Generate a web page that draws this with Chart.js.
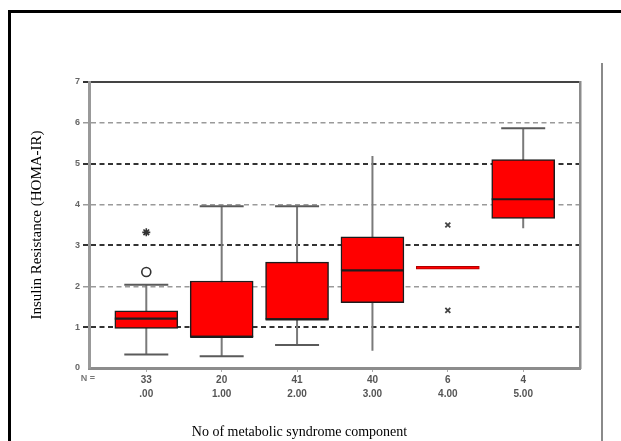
<!DOCTYPE html>
<html><head><meta charset="utf-8">
<script src="https://cdn.jsdelivr.net/npm/chart.js@4.4.1/dist/chart.umd.min.js"></script>
<style>
html,body{margin:0;padding:0;background:#fff;}
#wrap{position:relative;width:621px;height:441px;overflow:hidden;background:#fff;}
#frame{position:absolute;left:8px;top:10px;width:700px;height:500px;border-top:3px solid #000;border-left:3px solid #000;}
#vline{position:absolute;left:601px;top:63px;width:2px;height:400px;background:#8a8a8a;}
canvas{position:absolute;left:0;top:0;}
</style></head><body>
<div id="wrap"><div id="frame"></div><div id="vline"></div><canvas id="c" width="621" height="441"></canvas></div>
<script>
// ---- data ----
const categories = ['.00', '1.00', '2.00', '3.00', '4.00', '5.00'];
const nCounts = ['33', '20', '41', '40', '6', '4'];
const q1 = [0.97, 0.76, 1.19, 1.60, 2.42, 3.66];
const q3 = [1.40, 2.13, 2.59, 3.21, 2.49, 5.10];
const medians = [1.21, 0.76, 1.19, 2.39, null, 4.13];
const whiskerLow = [0.33, 0.29, 0.56, 0.42, null, 3.42];
const whiskerHigh = [2.04, 3.96, 3.96, 5.19, null, 5.87];
const capLow = [0.33, 0.29, 0.56, null, null, null];
const capHigh = [2.04, 3.96, 3.96, null, null, 5.87];
const outlierCircle = [[0, 2.35]];
const outlierStar = [[0, 3.32]];
const outlierCross = [[4, 3.50], [4, 1.41]];
const yTicks = [0, 1, 2, 3, 4, 5, 6, 7];
const yTitle = 'Insulin Resistance (HOMA-IR)';
const xTitle = 'No of metabolic syndrome component';

// ---- build datasets ----
const boxData = categories.map((c, i) => ({x: i, y: [q1[i], q3[i]]}));
const whiskerData = [];
categories.forEach((c, i) => {
  if (whiskerLow[i] != null) {
    whiskerData.push({x: i, y: whiskerLow[i]}, {x: i, y: whiskerHigh[i]}, {x: i + 0.5, y: null});
  }
});
const medData = categories.map((c, i) => ({x: i, y: medians[i]}));
const capData = [];
categories.forEach((c, i) => {
  if (capLow[i] != null) capData.push({x: i, y: capLow[i]});
  if (capHigh[i] != null) capData.push({x: i, y: capHigh[i]});
});
const toPts = a => a.map(p => ({x: p[0], y: p[1]}));

const nLabel = {
  id: 'nLabel',
  afterDraw(chart) {
    const ctx = chart.ctx;
    ctx.save();
    ctx.font = 'bold 9px "Liberation Sans"';
    ctx.fillStyle = '#777';
    ctx.textAlign = 'center';
    ctx.textBaseline = 'middle';
    ctx.fillText('N =', chart.chartArea.left - 1, chart.chartArea.bottom + 11);
    ctx.restore();
  }
};

new Chart(document.getElementById('c'), {
  type: 'bar',
  data: {
    datasets: [
      {type: 'line', data: whiskerData, borderColor: '#7a7a7a', borderWidth: 2, pointRadius: 0, spanGaps: false, order: 5},
      {type: 'scatter', data: capData, pointStyle: 'line', pointRadius: 22, pointBorderWidth: 2, pointBorderColor: '#5a5a5a', order: 4},
      {type: 'bar', data: boxData, backgroundColor: '#ff0000',
        borderColor: c => (c.dataIndex === 4 ? '#b00000' : '#1c1c1c'),
        borderWidth: c => (c.dataIndex === 4 ? 1 : 1.5), borderSkipped: false, barThickness: 63, order: 3},
      {type: 'scatter', data: medData, pointStyle: 'line', pointRadius: 31.5, pointBorderWidth: 2.2, pointBorderColor: '#1c1c1c', order: 2},
      {type: 'scatter', data: toPts(outlierCircle), pointStyle: 'circle', pointRadius: 4.5, pointBackgroundColor: '#fff', pointBorderColor: '#333', pointBorderWidth: 1.6, order: 1},
      {type: 'scatter', data: toPts(outlierStar), pointStyle: 'star', pointRadius: 4, pointBorderColor: '#333', pointBorderWidth: 1.6, order: 1},
      {type: 'scatter', data: toPts(outlierCross), pointStyle: 'crossRot', pointRadius: 3.5, pointBorderColor: '#444', pointBorderWidth: 1.8, order: 1}
    ]
  },
  options: {
    responsive: false,
    devicePixelRatio: 1,
    animation: false,
    events: [],
    layout: {padding: {top: 82, right: 22, bottom: 0, left: 0}},
    plugins: {
      legend: {display: false},
      tooltip: {enabled: false},
      title: {display: true, position: 'bottom', text: xTitle, color: '#000',
        font: {family: '"Liberation Serif"', size: 14, weight: 'normal', lineHeight: 1.2}, padding: 0}
    },
    scales: {
      x: {
        type: 'linear', position: 'bottom', min: -0.76, max: 5.76, offset: false,
        afterBuildTicks: s => { s.ticks = categories.map((c, i) => ({value: i})); },
        afterFit: s => { s.height = 56.2; },
        ticks: {
          callback: (v, i) => [nCounts[i], categories[i]],
          font: {family: '"Liberation Sans"', size: 10, weight: 'bold', lineHeight: 1.4},
          color: '#555', padding: 1, maxRotation: 0, autoSkip: false
        },
        grid: {drawOnChartArea: false, offset: false, tickLength: 4, color: '#aaa', lineWidth: 1},
        border: {color: '#8c8c8c', width: 3}
      },
      xTop: {
        type: 'linear', position: 'top', display: true,
        ticks: {display: false}, grid: {display: false},
        border: {color: '#444', width: 2},
        afterFit: s => { s.height = 0; }
      },
      y: {
        type: 'linear', position: 'left', min: 0, max: 7,
        afterBuildTicks: s => { s.ticks = yTicks.map(v => ({value: v})); },
        afterFit: s => { s.width = 89; },
        ticks: {font: {family: '"Liberation Sans"', size: 9, weight: 'bold'}, color: '#666', padding: 3},
        grid: {
          tickLength: 6,
          color: c => { const v = c.tick ? c.tick.value : 0; if (v === 0) return 'rgba(0,0,0,0)'; return (v % 2 === 1) ? '#333' : '#9a9a9a'; },
          lineWidth: c => { const v = c.tick ? c.tick.value : 0; return (v % 2 === 1) ? 2 : 1.5; }
        },
        border: {color: '#999', width: 3, dash: [5, 3.5]},
        title: {display: true, text: yTitle, color: '#000',
          font: {family: '"Liberation Serif"', size: 15, weight: 'normal', lineHeight: 1.2}, padding: {top: 28, bottom: 0}}
      },
      y2: {
        type: 'linear', position: 'right', display: true,
        ticks: {display: false}, grid: {display: false},
        border: {color: '#8c8c8c', width: 2.5},
        afterFit: s => { s.width = 18.5; }
      }
    }
  },
  plugins: [nLabel]
});
</script>
</body></html>
